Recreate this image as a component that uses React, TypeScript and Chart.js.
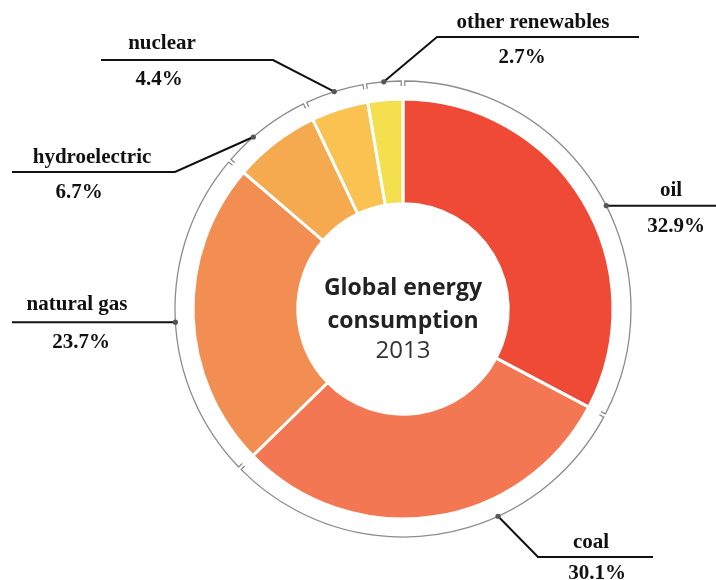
import React, { useEffect, useRef } from 'react';
import { Chart, registerables } from 'chart.js';

Chart.register(...registerables);

// ---- data ----
const categories = ['oil', 'coal', 'natural gas', 'hydroelectric', 'nuclear', 'other renewables'];
const shares = [32.9, 30.1, 23.7, 6.7, 4.4, 2.7];
const sliceColors = ['#EE4A35', '#F27752', '#F28E52', '#F6AA50', '#F9C251', '#F4E04F'];
const centerTitle = ['Global energy', 'consumption'];
const centerYear = '2013';

// ---- label layout (annotation placement only) ----
type LabelLayout = {
  frac: number;
  elbow: [number, number] | null;
  endX: number;
  nameX: number;
  pctX: number;
  nameY: number;
  pctY: number;
};
const labelLayout: LabelLayout[] = [
  { frac: 0.535, elbow: null, endX: 716, nameX: 671, pctX: 676, nameY: 196, pctY: 232 },
  { frac: 0.348, elbow: [538, 557], endX: 653, nameX: 591, pctX: 597, nameY: 548, pctY: 579 },
  { frac: 0.483, elbow: null, endX: 12, nameX: 77, pctX: 81, nameY: 310, pctY: 348 },
  { frac: 0.35, elbow: [175, 172], endX: 12, nameX: 92, pctX: 79, nameY: 163, pctY: 198 },
  { frac: 0.5, elbow: [273, 60], endX: 101, nameX: 162, pctX: 159, nameY: 49, pctY: 85 },
  { frac: 0.5, elbow: [437, 37], endX: 639, nameX: 533, pctX: 522, nameY: 28, pctY: 63 },
];

const annotationPlugin = {
  id: 'energyAnnotations',
  afterDraw(chart: any) {
    const ctx: CanvasRenderingContext2D = chart.ctx;
    const meta = chart.getDatasetMeta(0);
    let cx = 0;
    let cy = 0;
    meta.data.forEach((arc: any, i: number) => {
      const p = arc.getProps(['x', 'y', 'startAngle', 'endAngle', 'outerRadius'], true);
      cx = p.x;
      cy = p.y;
      const ringR = p.outerRadius + 18;
      const gap = 1.8 / ringR;
      const a0 = p.startAngle + gap;
      const a1 = p.endAngle - gap;
      const tick = 5;
      // outer ring piece with inward ticks at both ends
      ctx.save();
      ctx.strokeStyle = '#8c8c8c';
      ctx.lineWidth = 1.3;
      ctx.beginPath();
      ctx.moveTo(p.x + (ringR - tick) * Math.cos(a0), p.y + (ringR - tick) * Math.sin(a0));
      ctx.lineTo(p.x + ringR * Math.cos(a0), p.y + ringR * Math.sin(a0));
      ctx.arc(p.x, p.y, ringR, a0, a1);
      ctx.lineTo(p.x + (ringR - tick) * Math.cos(a1), p.y + (ringR - tick) * Math.sin(a1));
      ctx.stroke();
      ctx.restore();

      // leader line
      const lay = labelLayout[i];
      const a = p.startAngle + lay.frac * (p.endAngle - p.startAngle);
      const dx = p.x + ringR * Math.cos(a);
      const dy = p.y + ringR * Math.sin(a);
      ctx.save();
      ctx.strokeStyle = '#111';
      ctx.lineWidth = 2;
      ctx.beginPath();
      ctx.moveTo(dx, dy);
      if (lay.elbow) {
        ctx.lineTo(lay.elbow[0], lay.elbow[1]);
        ctx.lineTo(lay.endX, lay.elbow[1]);
      } else {
        ctx.lineTo(lay.endX, dy);
      }
      ctx.stroke();
      ctx.fillStyle = '#555';
      ctx.beginPath();
      ctx.arc(dx, dy, 2.6, 0, Math.PI * 2);
      ctx.fill();

      // label texts
      ctx.fillStyle = '#111';
      ctx.textAlign = 'center';
      ctx.textBaseline = 'alphabetic';
      ctx.font = 'bold 21px "Liberation Serif", "Times New Roman", serif';
      ctx.fillText(categories[i], lay.nameX, lay.nameY);
      ctx.fillText(`${shares[i].toFixed(1)}%`, lay.pctX, lay.pctY);
      ctx.restore();
    });

    // center text
    ctx.save();
    ctx.textAlign = 'center';
    ctx.textBaseline = 'alphabetic';
    ctx.fillStyle = '#222';
    ctx.font = 'bold 23px "Open Sans", sans-serif';
    ctx.fillText(centerTitle[0], cx, cy - 14);
    ctx.fillText(centerTitle[1], cx, cy + 19);
    ctx.fillStyle = '#333';
    ctx.font = '24px "Open Sans", sans-serif';
    ctx.fillText(centerYear, cx, cy + 49);
    ctx.restore();
  },
};

export default function App() {
  const canvasRef = useRef<HTMLCanvasElement | null>(null);

  useEffect(() => {
    document.body.style.margin = '0';
    const canvas = canvasRef.current;
    if (!canvas) return;
    const chart = new Chart(canvas, {
      type: 'doughnut',
      data: {
        labels: categories,
        datasets: [
          {
            data: shares,
            backgroundColor: sliceColors,
            borderColor: '#ffffff',
            borderWidth: 3,
            hoverOffset: 0,
          },
        ],
      },
      options: {
        responsive: false,
        animation: false,
        devicePixelRatio: 1,
        radius: 210,
        cutout: 105,
        rotation: 0,
        layout: { padding: { left: 192, right: 102, top: 98, bottom: 60 } },
        plugins: {
          legend: { display: false },
          tooltip: { enabled: false },
        },
      },
      plugins: [annotationPlugin],
    });
    return () => chart.destroy();
  }, []);

  return (
    <div style={{ width: 716, height: 580, background: '#fff' }}>
      <canvas ref={canvasRef} width={716} height={580} />
    </div>
  );
}
